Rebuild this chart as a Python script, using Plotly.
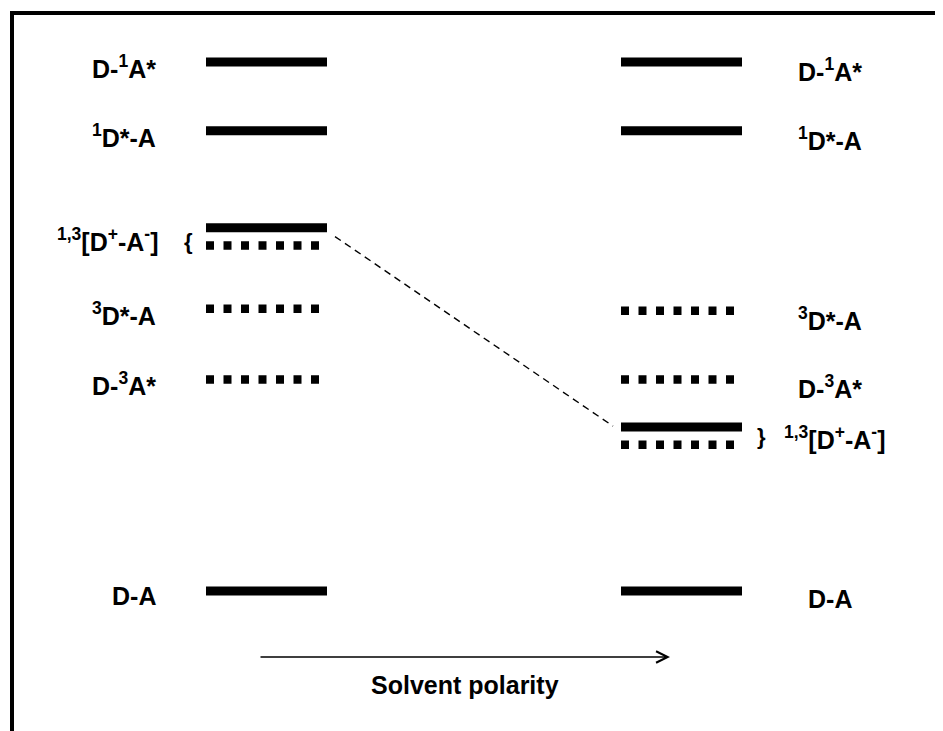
import plotly.graph_objects as go

# ---------------- data (energies in arbitrary units, D-A = 0) ----------------
state_keys = ["D1A", "1DA", "1CT", "3CT", "3DA", "D3A", "DA"]
state_labels = ["D-<sup>1</sup>A*", "<sup>1</sup>D*-A",
                "<sup>1,3</sup>[D<sup>+</sup>-A<sup>-</sup>]",
                "<sup>1,3</sup>[D<sup>+</sup>-A<sup>-</sup>]",
                "<sup>3</sup>D*-A", "D-<sup>3</sup>A*", "D-A"]
spin = ["singlet", "singlet", "singlet", "triplet", "triplet", "triplet", "singlet"]
energy_nonpolar = [3.00, 2.61, 2.06, 1.96, 1.60, 1.20, 0.00]
energy_polar = [3.00, 2.61, 0.93, 0.83, 1.59, 1.20, 0.00]
axis_label = "Solvent polarity"

# ---------------- layout constants (pixels on x, energy on y) ----------------
W, H = 943, 731
OFF = 8  # page body margin
PX_PER_E = 176.33
Y_TOP_E = 3.00 + (62 - OFF) / PX_PER_E
Y_BOT_E = Y_TOP_E - H / PX_PER_E

LEFT_X = (206, 327)
RIGHT_X = (621, 742)
FONT = "Liberation Sans"
FS = 25

fig = go.Figure()


def add_level(x0, x1, e, kind):
    if kind == "singlet":
        line = dict(color="black", width=9)
    else:
        line = dict(color="black", width=8.5, dash="8px,9.5px")
    fig.add_trace(go.Scatter(x=[x0, x1], y=[e, e], mode="lines", line=line,
                             hoverinfo="skip", showlegend=False))


for e, s in zip(energy_nonpolar, spin):
    add_level(LEFT_X[0], LEFT_X[1], e, s)
for e, s in zip(energy_polar, spin):
    add_level(RIGHT_X[0], RIGHT_X[1], e, s)

# dashed connector between CT states
i1, i3 = state_keys.index("1CT"), state_keys.index("3CT")
ct_left_mid = (energy_nonpolar[i1] + energy_nonpolar[i3]) / 2
fig.add_trace(go.Scatter(x=[335, 613], y=[ct_left_mid, energy_polar[i1] + 0.005],
                         mode="lines", line=dict(color="black", width=1.4, dash="7px,5px"),
                         hoverinfo="skip", showlegend=False))

annots = []
font = dict(family=FONT, size=FS, color="black", weight="bold")
brace_font = dict(family=FONT, size=22, color="black", weight="bold")

# left labels
for k, lab, e in zip(state_keys, state_labels, energy_nonpolar):
    if k == "3CT":
        continue
    if k == "1CT":
        mid = (energy_nonpolar[i1] + energy_nonpolar[i3]) / 2
        annots.append(dict(x=161, y=mid, text=lab, xanchor="right", yanchor="middle",
                           yshift=-3, showarrow=False, font=font))
        annots.append(dict(x=188, y=mid, text="{", xanchor="center", yanchor="middle",
                           yshift=-5, showarrow=False, font=brace_font))
        continue
    annots.append(dict(x=158, y=e, text=lab, xanchor="right", yanchor="middle",
                       yshift=-5, showarrow=False, font=font))

# right labels
for k, lab, e in zip(state_keys, state_labels, energy_polar):
    if k == "3CT":
        continue
    if k == "1CT":
        mid = (energy_polar[i1] + energy_polar[i3]) / 2
        annots.append(dict(x=782, y=mid, text=lab, xanchor="left", yanchor="middle",
                           yshift=-2, showarrow=False, font=font))
        annots.append(dict(x=761, y=mid, text="}", xanchor="center", yanchor="middle",
                           yshift=-1, showarrow=False, font=brace_font))
        continue
    annots.append(dict(x=830, y=e, text=lab, xanchor="center", yanchor="middle",
                       yshift=-8, showarrow=False, font=font))

# solvent polarity arrow
arrow_e = -66 / PX_PER_E
annots.append(dict(x=670, y=arrow_e, ax=259, ay=arrow_e, xref="x", yref="y",
                   axref="x", ayref="y", text="", showarrow=True,
                   arrowhead=5, arrowsize=1.5, arrowwidth=1.5, arrowcolor="black"))
annots.append(dict(x=465, y=-94 / PX_PER_E, text=axis_label, showarrow=False,
                   xanchor="center", yanchor="middle",
                   font=dict(family=FONT, size=25, color="black", weight="bold")))

fig.update_layout(
    width=W, height=H,
    margin=dict(l=0, r=0, t=0, b=0),
    paper_bgcolor="white", plot_bgcolor="white",
    xaxis=dict(range=[OFF, W + OFF], visible=False, fixedrange=True),
    yaxis=dict(range=[Y_BOT_E, Y_TOP_E], visible=False, fixedrange=True),
    annotations=annots,
    shapes=[dict(type="rect", xref="x", yref="paper", x0=12, x1=W + 60,
                 y0=-0.2, y1=1 - (13 - OFF) / H, line=dict(color="black", width=4))],
    showlegend=False,
)

fig.write_html("out.html")
